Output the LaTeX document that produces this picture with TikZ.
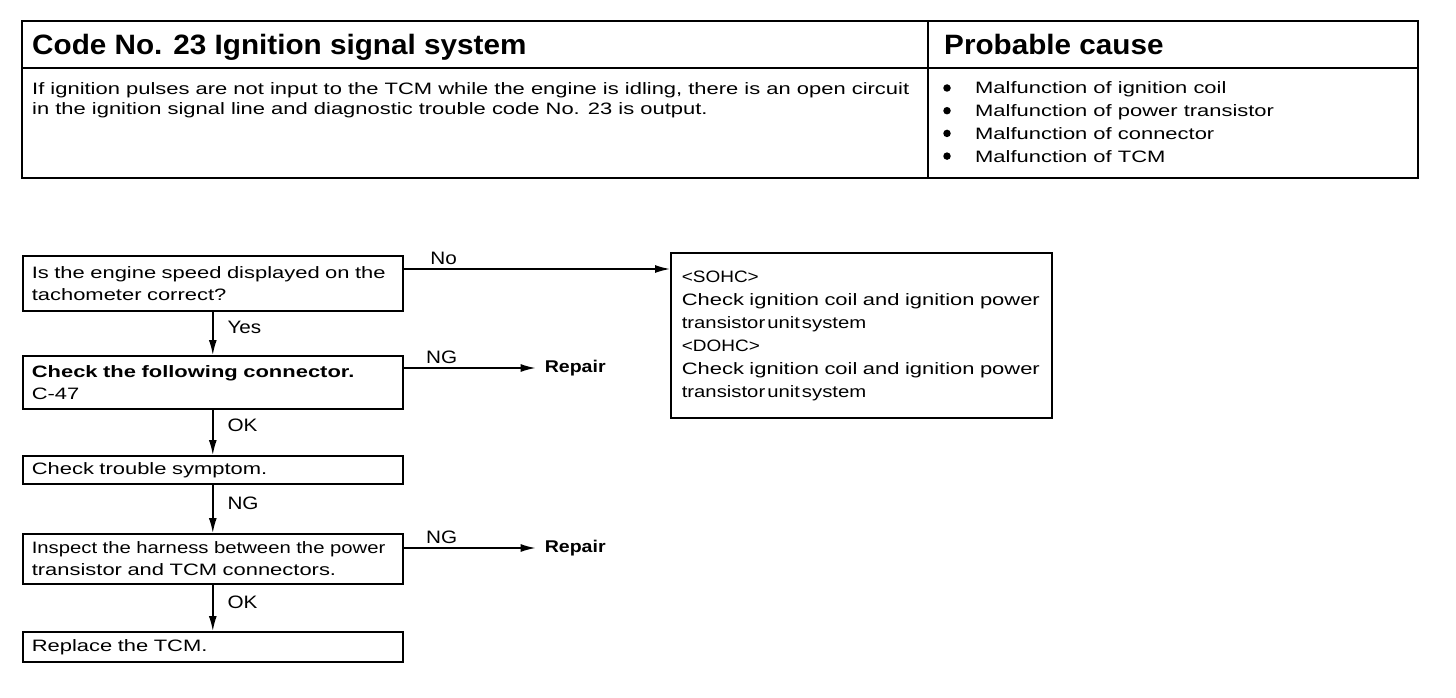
\documentclass[tikz,border=0pt]{standalone}
\usepackage{fontspec}
\setmainfont{Liberation Sans}
\newfontfamily\headfont{Liberation Sans}[FakeStretch=1.06]
\newfontfamily\widefont{Liberation Sans}[FakeStretch=1.33]
\newfontfamily\tightfont{Liberation Sans}[FakeStretch=1.23]
\newfontfamily\labelfont{Liberation Sans}[FakeStretch=1.15]
\usetikzlibrary{arrows.meta, positioning, calc}

\begin{document}
\begin{tikzpicture}[
  x=1pt, y=-1pt,
  tabline/.style={line width=2pt},
  hdtext/.style={font=\headfont\bfseries\fontsize{28}{32}\selectfont, inner sep=0pt, anchor=base west},
  bodytext/.style={font=\widefont\fontsize{16.5}{20}\selectfont, inner sep=0pt, align=left},
  causedot/.style={circle, fill, inner sep=0pt, minimum size=7.5pt},
  flowbox/.style={draw, line width=1.6pt, font=\widefont\fontsize{16.5}{22}\selectfont, align=left, text width=362pt, inner xsep=9pt, inner ysep=3pt},
  infobox/.style={flowbox, font=\widefont\fontsize{16.5}{23}\selectfont, text width=359pt, inner xsep=11pt},
  flowarrow/.style={line width=1.5pt, -{Latex[length=15pt,width=8pt]}},
  flowlabel/.style={font=\labelfont\fontsize{18}{20}\selectfont, inner sep=2pt},
  repair/.style={font=\labelfont\bfseries\fontsize{17}{20}\selectfont, inner sep=0pt, anchor=west},
]
\useasboundingbox (0,0) rectangle (1456,698);

% Table
\draw[tabline] (22,21) rectangle (1418,178);
\draw[tabline] (22,68) -- (1418,68);
\draw[tabline] (928,21) -- (928,178);
\node[hdtext] (title) at (32,55) {Code No. 23 Ignition signal system};
\node[hdtext] (cause) at (944,55) {Probable cause};
\node[bodytext, anchor=north west] (desc) at (32,82) {If ignition pulses are not input to the TCM while the engine is idling, there is an open circuit\\
  in the ignition signal line and diagnostic trouble code No. 23 is output.};
\foreach \txt [count=\i] in {Malfunction of ignition coil, Malfunction of power transistor, Malfunction of connector, Malfunction of TCM}{
  \node[causedot] (dot\i) at (947, 65.3+22.7*\i) {};
  \node[bodytext, anchor=base west] (item\i) at (975, 71.2+22.7*\i) {\txt};
}

% Flow boxes
\node[flowbox, anchor=north west, minimum height=55.4pt] (speed) at (22,255) {Is the engine speed displayed on the\\ tachometer correct?};
\node[flowbox, minimum height=53.4pt, below=43pt of speed] (conn) {\textbf{Check the following connector.}\\ C-47};
\node[flowbox, minimum height=28.4pt, below=45pt of conn] (symp) {Check trouble symptom.};
\node[flowbox, minimum height=50.4pt, below=48pt of symp] (harn) {{\tightfont Inspect the harness between the power}\\ transistor and TCM connectors.};
\node[flowbox, minimum height=30.4pt, below=46pt of harn] (repl) {Replace the TCM.};

% Ignition check box
\node[infobox, anchor=north west, minimum height=165.4pt] (ign) at (670,252) {{\labelfont <SOHC>}\\
  Check ignition coil and ignition power\\ {\tightfont\spaceskip=2pt transistor unit system}\\
  {\labelfont <DOHC>}\\
  Check ignition coil and ignition power\\ {\tightfont\spaceskip=2pt transistor unit system}};

% Repair targets
\coordinate (speedNo) at ($(speed.north east)+(0,14)$);
\coordinate (connNG) at ($(conn.north east)+(0,13)$);
\coordinate (harnNG) at ($(harn.north east)+(0,15)$);
\node[repair] (rep1) at ($(connNG)+(141,0)$) {Repair};
\node[repair] (rep2) at ($(harnNG)+(141,0)$) {Repair};

% Edges
\draw[flowarrow] (speed) -- node[flowlabel, right=12pt, pos=0.35] {Yes} (conn);
\draw[flowarrow] (conn) -- node[flowlabel, right=12pt, pos=0.35] {OK} (symp);
\draw[flowarrow] (symp) -- node[flowlabel, right=12pt, pos=0.38] {NG} (harn);
\draw[flowarrow] (harn) -- node[flowlabel, right=12pt, pos=0.38] {OK} (repl);
\draw[flowarrow] (speedNo) -- node[flowlabel, above=2pt, pos=0.15] {No} (speedNo -| ign.west);
\draw[flowarrow, shorten >=9pt] (connNG) -- node[flowlabel, above=2pt, pos=0.27] {NG} (rep1.west);
\draw[flowarrow, shorten >=9pt] (harnNG) -- node[flowlabel, above=2pt, pos=0.27] {NG} (rep2.west);
\end{tikzpicture}
\end{document}
